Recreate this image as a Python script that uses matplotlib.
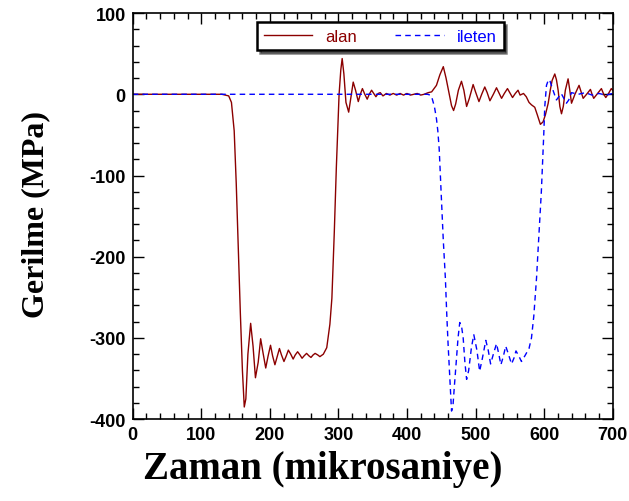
import numpy as np
import matplotlib
matplotlib.use("Agg")
import matplotlib.pyplot as plt
from matplotlib.ticker import MultipleLocator

plt.rcParams["axes.unicode_minus"] = False

# alan (red, solid)
alan_t = [0, 130, 135, 140, 144, 148, 151, 154, 157, 160,
          162.7, 165, 168, 172, 175.5, 179, 183, 186.6, 190, 194,
          197.5, 201, 204, 207.4, 211, 214, 217, 220.6, 224, 227,
          230.5, 234, 237, 240.5, 244, 247, 250, 253.6, 257, 260,
          263, 266, 270, 273, 278, 283, 287.6, 290.5, 294, 297,
          301, 303.5, 305.5, 308, 311, 315, 318, 321.6, 325, 329,
          332, 335, 338.5, 342, 345, 348.4, 351.5, 354.7, 358, 361,
          365, 370, 375, 380, 385, 390, 395, 400, 405, 410,
          415, 420, 425, 431, 436, 443, 448, 453, 457, 461.5,
          465, 468, 471, 475, 479.5, 483, 487, 491, 496.5, 500,
          505, 509, 513.5, 517, 521, 526, 530.6, 534, 538, 542,
          546.6, 550, 554, 558, 562, 565, 570, 574, 578, 581.6,
          586.4, 590, 594.6, 598.5, 602, 606, 609, 611.7, 615.6, 618,
          620.5, 623, 625.4, 628, 631, 635, 637.5, 640, 645, 651,
          654, 657, 662, 667.6, 670, 672.4, 678, 683.6, 687, 690,
          694, 698, 700]
alan_v = [0, 0, -1, -2, -10, -45, -110, -190, -270, -340,
          -385, -375, -320, -282, -310, -349, -330, -301, -318, -337,
          -322, -309, -322, -333, -322, -313, -321, -329, -322, -315,
          -320, -326, -321, -317, -321, -325, -322, -319, -322, -324,
          -321, -319, -321, -323, -320, -312, -283, -251, -170, -90,
          0, 30, 44, 25, -10, -22, -5, 15, 5, -9,
          0, 7, 0, -6, 0, 5, 1, -3, 1, 2,
          -2, 1, -1, 1, -1, 1, -1, 1, -1, 0,
          1, -1, 0, 2, 3, 11, 24, 34, 20, 1,
          -14, -20, -12, 5, 16, 5, -15, -5, 12, 3,
          -9, 0, 9, 2, -8, 0, 8, 2, -5, 1,
          7, 2, -4, 1, 5, -1, 1, -3, -10, -13,
          -16, -25, -37, -34, -25, -11, 5, 17, 25, 18,
          5, -15, -24, -15, 5, 19, 5, -11, 0, 11,
          3, -5, 0, 6, 0, -5, 1, 7, 0, -4,
          1, 7, 5]

# ileten (blue, dashed)
ileten_t = [0, 430, 434, 436, 440, 443, 445, 447, 450, 453,
            456, 458, 460, 462.5, 465, 467, 469, 472, 474.5, 477,
            479.5, 482, 484.5, 487, 490, 494, 497.5, 502, 506, 510,
            515, 518.5, 522, 526, 530.6, 534, 537, 540.5, 544, 548,
            552.5, 556, 559, 563, 567, 572, 578, 581.6, 585, 589,
            592, 596, 599.5, 601, 603.5, 606, 608, 611, 613, 618,
            625, 632.6, 636, 640, 645, 650, 660, 670, 680, 690,
            700]
ileten_v = [0, 0, -1, -3, -15, -30, -45, -67, -124, -180,
            -226, -270, -308, -349, -390, -385, -361, -328, -300, -281,
            -285, -300, -330, -351, -340, -312, -296, -315, -341, -325,
            -303, -315, -332, -320, -307, -320, -333, -323, -310, -320,
            -332, -325, -316, -322, -329, -322, -313, -300, -273, -226,
            -180, -120, -50, -15, 11, 17, 18, 10, 5, -7,
            1, -11, -7, 2, 1, 0, 2, -1, 1, -1,
            1]

red = "#8b0000"
blue = "#0000ff"

fig = plt.figure(figsize=(6.29, 5.02), dpi=100)
ax = fig.add_axes([0.211, 0.163, 0.763, 0.809])

ax.plot(alan_t, alan_v, color=red, lw=1.0, label="alan")
ax.plot(ileten_t, ileten_v, color=blue, lw=1.0, dashes=(4, 3), label="ileten")

ax.set_xlim(0, 700)
ax.set_ylim(-400, 100)
ax.xaxis.set_major_locator(MultipleLocator(100))
ax.xaxis.set_minor_locator(MultipleLocator(20))
ax.yaxis.set_major_locator(MultipleLocator(100))
ax.yaxis.set_minor_locator(MultipleLocator(20))
ax.tick_params(which="both", direction="in", top=True, right=True, width=1)
ax.tick_params(which="major", length=8, pad=5)
ax.tick_params(which="minor", length=4)
for lab in ax.get_xticklabels() + ax.get_yticklabels():
    lab.set_fontfamily("Liberation Sans")
    lab.set_fontweight("bold")
    lab.set_fontsize(13)
for s in ax.spines.values():
    s.set_linewidth(1.2)

# axis titles, placed in figure pixels like the reference
fig.text(323 / 629, 1 - 470 / 502, "Zaman (mikrosaniye)", family="Liberation Serif",
         fontweight="bold", fontsize=28, ha="center", va="center")
fig.text(36 / 629, 1 - 214 / 502, "Gerilme (MPa)", family="Liberation Serif",
         fontweight="bold", fontsize=23, ha="center", va="center", rotation=90)

leg = ax.legend(loc="upper center", bbox_to_anchor=(0.516, 0.978), ncol=2,
                fancybox=False, shadow={"color": "black"}, framealpha=1,
                edgecolor="black", handlelength=2.9, columnspacing=2.3,
                labelcolor="linecolor", borderaxespad=0,
                prop={"family": "Liberation Sans", "size": 12},
                borderpad=0.4)
leg.get_frame().set_linewidth(1.8)

fig.savefig("out.png", dpi=100)
